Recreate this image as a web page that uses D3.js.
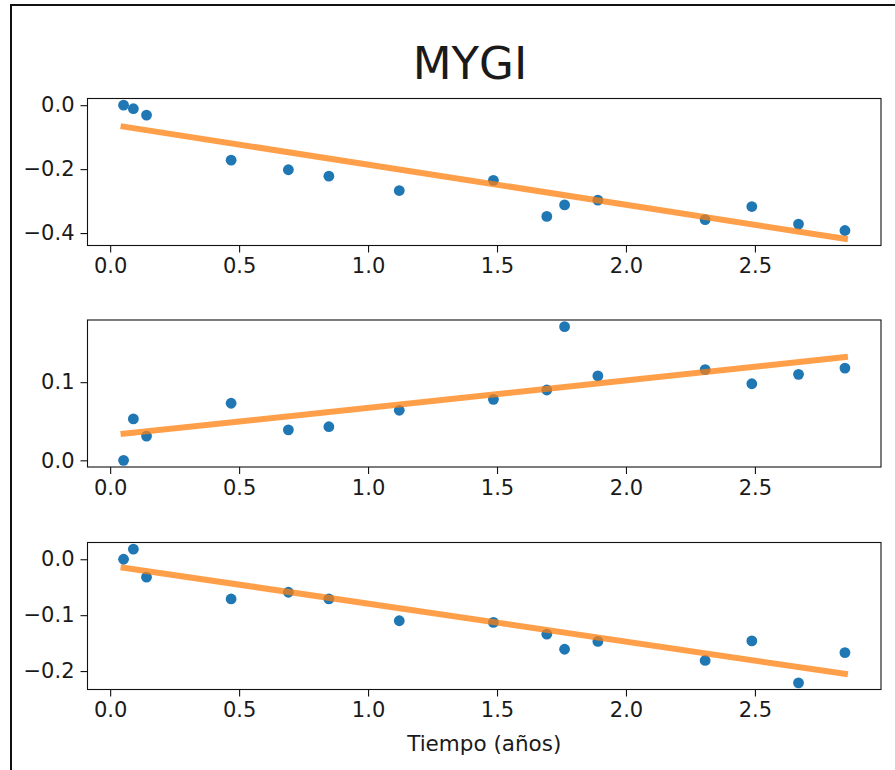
<!DOCTYPE html>
<html>
<head>
<meta charset="utf-8">
<script src="https://cdn.jsdelivr.net/npm/d3@7"></script>
<style>
  html, body { margin: 0; padding: 0; background: #fff; }
  svg { display: block; }
  text { font-family: "DejaVu Sans", sans-serif; fill: #1a1a1a; }
</style>
</head>
<body>
<script>
// ---- data ----
const chartTitle = "MYGI";
const xLabel = "Tiempo (años)";
const xValues = [0.052, 0.090, 0.141, 0.469, 0.691, 0.848, 1.121, 1.486, 1.693, 1.762, 1.891, 2.307, 2.488, 2.669, 2.849];
const series1 = [0.0, -0.011, -0.031, -0.172, -0.202, -0.222, -0.267, -0.235, -0.348, -0.312, -0.297, -0.358, -0.317, -0.372, -0.392];
const series2 = [0.0, 0.053, 0.031, 0.073, 0.039, 0.043, 0.064, 0.078, 0.090, 0.171, 0.108, 0.116, 0.098, 0.110, 0.118];
const series3 = [0.0, 0.018, -0.032, -0.071, -0.059, -0.071, -0.110, -0.113, -0.134, -0.161, -0.147, -0.181, -0.146, -0.221, -0.167];
// fitted trend line values at the first and last time
const fit1 = [-0.067, -0.418];
const fit2 = [0.034, 0.132];
const fit3 = [-0.015, -0.205];
const xTicks = [0.0, 0.5, 1.0, 1.5, 2.0, 2.5];
const xTickLabels = ["0.0", "0.5", "1.0", "1.5", "2.0", "2.5"];
const yTicks1 = [0.0, -0.2, -0.4];
const yTickLabels1 = ["0.0", "\u22120.2", "\u22120.4"];
const yTicks2 = [0.0, 0.1];
const yTickLabels2 = ["0.0", "0.1"];
const yTicks3 = [0.0, -0.1, -0.2];
const yTickLabels3 = ["0.0", "\u22120.1", "\u22120.2"];

// ---- layout ----
const W = 895, H = 770;
const left = 87.5, right = 881;
const panelTops = [98.5, 320, 542.5];
const panelH = 147;
const tickFont = 21;

const svg = d3.select("body").append("svg").attr("width", W).attr("height", H);

// frame lines of the screenshot
svg.append("line").attr("x1", 11).attr("x2", 11).attr("y1", 4).attr("y2", H)
  .attr("stroke", "#111").attr("stroke-width", 2);
svg.append("line").attr("x1", 10).attr("x2", W).attr("y1", 5).attr("y2", 5)
  .attr("stroke", "#111").attr("stroke-width", 2);

svg.append("text").attr("x", 470).attr("y", 79)
  .attr("text-anchor", "middle").style("font-size", "45px").text(chartTitle);

function pad(lo, hi) { const m = (hi - lo) * 0.05; return [lo - m, hi + m]; }

const xExt = pad(d3.min(xValues), d3.max(xValues));
const x = d3.scaleLinear().domain(xExt).range([left, right]);

const panels = [
  { ys: series1, fit: fit1, ticks: yTicks1, labels: yTickLabels1 },
  { ys: series2, fit: fit2, ticks: yTicks2, labels: yTickLabels2 },
  { ys: series3, fit: fit3, ticks: yTicks3, labels: yTickLabels3 }
];

panels.forEach((p, i) => {
  const top = panelTops[i], bottom = top + panelH;
  const all = p.ys.concat(p.fit);
  const y = d3.scaleLinear().domain(pad(d3.min(all), d3.max(all))).range([bottom, top]);
  const g = svg.append("g");

  const xa = g.append("g").attr("transform", `translate(0,${bottom})`)
    .call(d3.axisBottom(x).tickValues(xTicks).tickFormat((d, k) => xTickLabels[k]).tickSize(7).tickPadding(6));
  const ya = g.append("g").attr("transform", `translate(${left},0)`)
    .call(d3.axisLeft(y).tickValues(p.ticks).tickFormat((d, k) => p.labels[k]).tickSize(7).tickPadding(6));
  [xa, ya].forEach(a => {
    a.select(".domain").remove();
    a.selectAll(".tick line").attr("stroke", "#111").attr("stroke-width", 1.1);
    a.selectAll(".tick text").style("font-size", tickFont + "px").attr("fill", "#1a1a1a")
      .style("font-family", "DejaVu Sans, sans-serif");
  });

  g.append("g").selectAll("circle").data(p.ys).join("circle")
    .attr("cx", (d, k) => x(xValues[k])).attr("cy", d => y(d)).attr("r", 5.4)
    .attr("fill", "#1f77b4");

  const x0 = xValues[0], x1 = xValues[xValues.length - 1];
  g.append("path").datum([[x0, p.fit[0]], [x1, p.fit[1]]])
    .attr("d", d3.line().x(d => x(d[0])).y(d => y(d[1])))
    .attr("stroke", "#ff7f0e").attr("stroke-opacity", 0.75).attr("stroke-width", 6)
    .attr("stroke-linecap", "square").attr("fill", "none");

  g.append("rect").attr("x", left).attr("y", top).attr("width", right - left).attr("height", panelH)
    .attr("fill", "none").attr("stroke", "#111").attr("stroke-width", 1.1);
});

svg.append("text").attr("x", (left + right) / 2).attr("y", 751)
  .attr("text-anchor", "middle").style("font-size", "21.5px").text(xLabel);
</script>
</body>
</html>
